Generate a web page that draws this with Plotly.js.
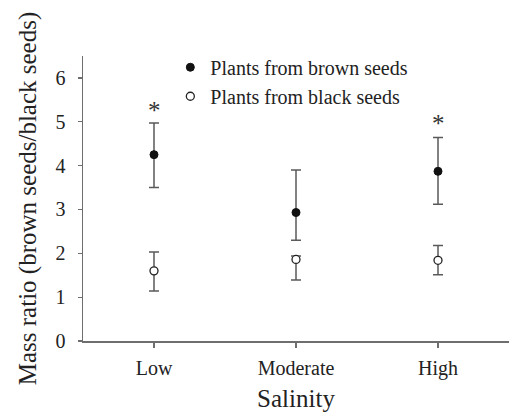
<!DOCTYPE html>
<html>
<head>
<meta charset="utf-8">
<script src="https://cdn.plot.ly/plotly-3.0.1.min.js"></script>
<style>html,body{margin:0;padding:0;background:#fff;}#chart{width:509px;height:412px;}</style>
</head>
<body>
<div id="chart"></div>
<script>
var categories = ['Low', 'Moderate', 'High'];
var brownMean = [4.25, 2.93, 3.87];
var brownErrUp = [0.72, 0.97, 0.77];
var brownErrDown = [0.75, 0.63, 0.75];
var blackMean = [1.60, 1.86, 1.84];
var blackErrUp = [0.43, 0.08, 0.34];
var blackErrDown = [0.46, 0.47, 0.33];
var sigLabels = ['*', '', '*'];
var sigY = [5.26, null, 4.96];
var yTickVals = [0, 1, 2, 3, 4, 5, 6];

var axisGrey = '#6e6e6e';
var fontFam = "'Liberation Serif', 'Times New Roman', Times, serif";

var traces = [
  {
    type: 'scatter', mode: 'markers', name: 'Plants from brown seeds',
    x: categories, y: brownMean,
    marker: {color: '#111', size: 8, line: {color: '#111', width: 1}},
    error_y: {type: 'data', symmetric: false, array: brownErrUp, arrayminus: brownErrDown,
      color: '#5a5a5a', thickness: 1.5, width: 5}
  },
  {
    type: 'scatter', mode: 'markers', name: 'Plants from black seeds',
    x: categories, y: blackMean,
    marker: {color: '#fff', size: 8, line: {color: '#222', width: 1.3}},
    error_y: {type: 'data', symmetric: false, array: blackErrUp, arrayminus: blackErrDown,
      color: '#5a5a5a', thickness: 1.5, width: 5}
  }
];

var annotations = [];
for (var i = 0; i < categories.length; i++) {
  if (sigLabels[i]) {
    annotations.push({x: categories[i], y: sigY[i], xref: 'x', yref: 'y', text: sigLabels[i],
      showarrow: false, font: {family: fontFam, size: 25, color: '#333'}});
  }
}

var layout = {
  width: 509, height: 412,
  margin: {l: 83, r: 0, t: 56, b: 71},
  paper_bgcolor: '#fff', plot_bgcolor: '#fff',
  font: {family: fontFam, color: '#222'},
  showlegend: true,
  legend: {x: 0.205, y: 1.029, xanchor: 'left', yanchor: 'top', bgcolor: 'rgba(0,0,0,0)',
    font: {family: fontFam, size: 20, color: '#222'}},
  xaxis: {
    type: 'category', range: [-0.5, 2.5], showgrid: false, zeroline: false,
    showline: true, linecolor: axisGrey, linewidth: 1.5,
    ticks: 'outside', ticklen: 5, tickcolor: axisGrey, tickwidth: 1.2,
    ticklabelstandoff: 3,
    tickfont: {family: fontFam, size: 20, color: '#222'},
    title: {text: 'Salinity', font: {family: fontFam, size: 25, color: '#222'}, standoff: 12}
  },
  yaxis: {
    range: [0, 6.5], tickvals: yTickVals, showgrid: false, zeroline: false,
    showline: true, linecolor: axisGrey, linewidth: 1.5,
    ticks: 'outside', ticklen: 4, tickcolor: axisGrey, tickwidth: 1.2,
    ticklabelstandoff: 8,
    tickfont: {family: fontFam, size: 20, color: '#222'},
    title: {text: 'Mass ratio (brown seeds/black seeds)', font: {family: fontFam, size: 25, color: '#222'}, standoff: 12}
  },
  annotations: annotations
};

Plotly.newPlot('chart', traces, layout, {displayModeBar: false, staticPlot: true});
</script>
</body>
</html>
